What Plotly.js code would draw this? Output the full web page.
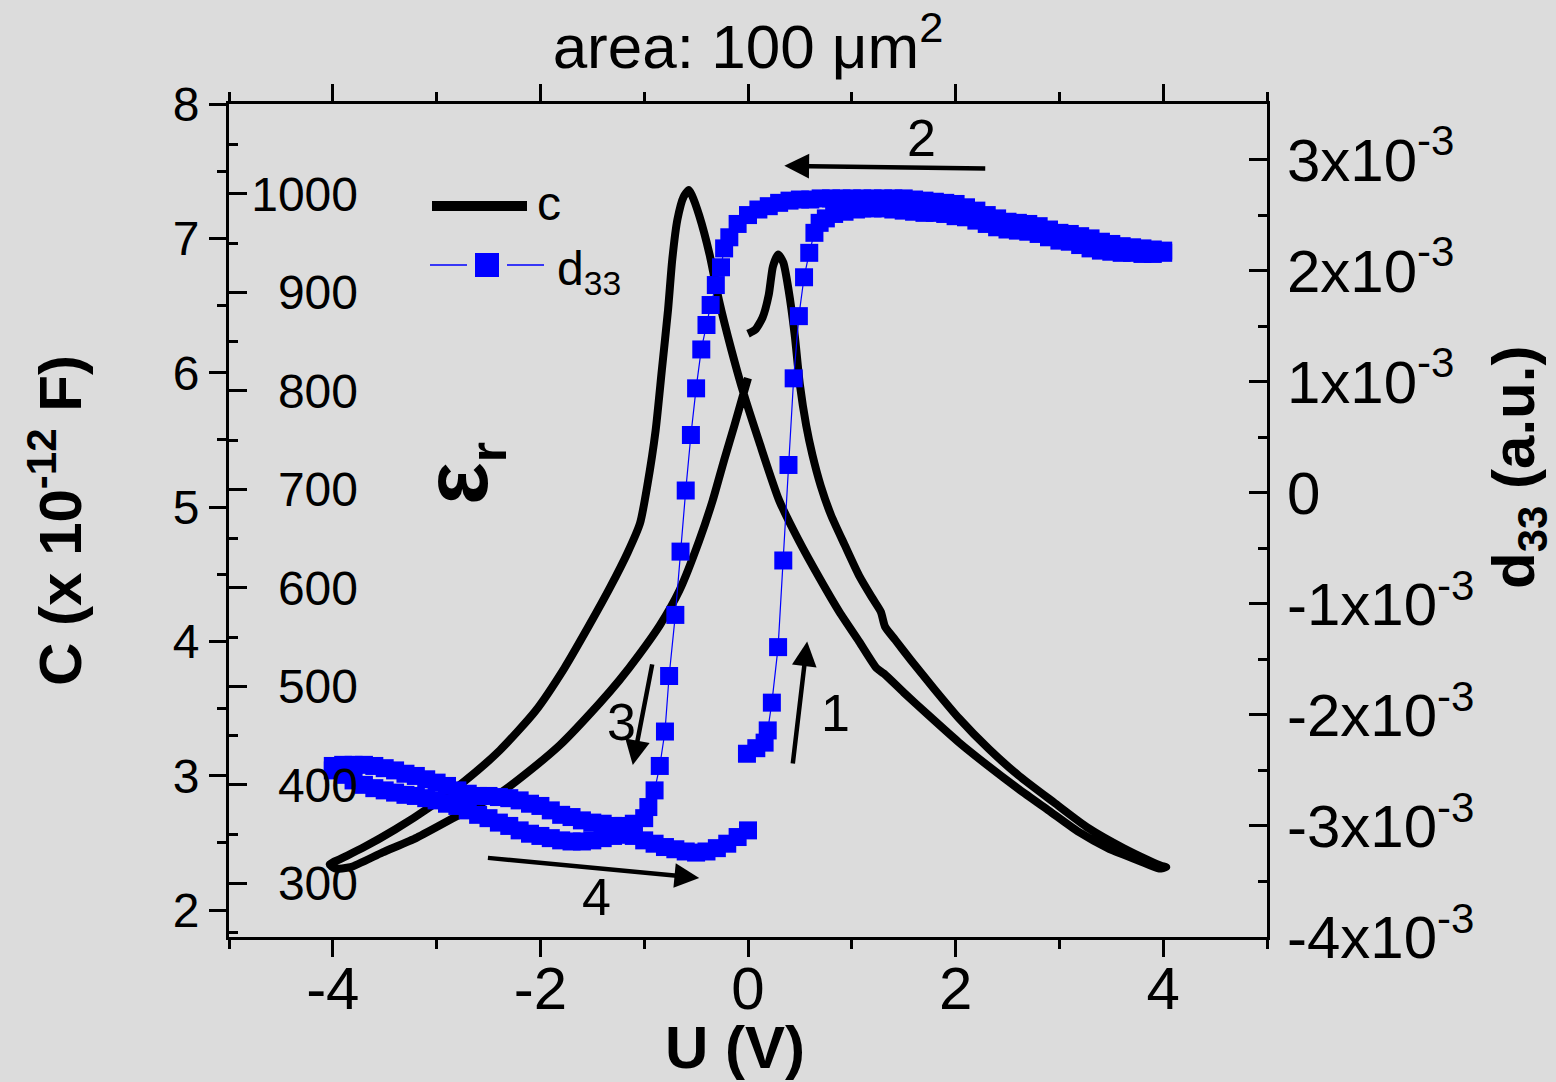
<!DOCTYPE html>
<html>
<head>
<meta charset="utf-8">
<script src="https://cdn.plot.ly/plotly-3.0.1.min.js"></script>
<style>html,body{margin:0;padding:0;background:#dcdcdc;}</style>
</head>
<body>
<div id="chart" style="width:1556px;height:1082px;"></div>
<script>
// ---------- DATA ----------
// Capacitance loop (x 10^-12 F) vs U (V): 0 -> +4 -> -4 -> 0
const C_U = [0.00,0.07,0.14,0.20,0.24,0.29,0.34,0.39,0.45,0.50,0.56,0.62,0.70,0.80,0.93,1.07,1.20,1.28,1.32,1.42,1.57,1.79,2.03,2.32,2.61,2.95,3.28,3.62,3.86,3.98,4.03,
  3.96,3.76,3.47,3.19,2.90,2.61,2.32,2.03,1.74,1.50,1.31,1.24,1.07,0.88,0.69,0.49,0.30,0.11,-0.04,-0.16,-0.28,-0.37,-0.47,-0.54,-0.57,-0.62,-0.68,-0.73,-0.77,-0.83,-0.89,-0.97,-1.04,-1.16,-1.33,-1.53,-1.77,-2.05,-2.39,-2.73,-3.06,-3.40,-3.72,-3.93,-4.03,
  -3.98,-3.83,-3.52,-3.19,-2.78,-2.39,-2.10,-1.81,-1.43,-1.24,-1.05,-0.85,-0.66,-0.47,-0.34,-0.23,-0.13,-0.06,0.00];
const C_val = [6.29,6.32,6.41,6.58,6.79,6.88,6.82,6.62,6.28,5.91,5.61,5.39,5.16,4.94,4.72,4.49,4.32,4.22,4.11,4.01,3.86,3.65,3.43,3.20,3.00,2.80,2.61,2.46,2.37,2.33,2.32,
  2.31,2.37,2.46,2.58,2.74,2.90,3.07,3.25,3.45,3.62,3.76,3.80,4.00,4.22,4.47,4.75,5.05,5.48,5.84,6.17,6.54,6.88,7.17,7.32,7.36,7.31,7.14,6.84,6.47,6.02,5.57,5.16,4.88,4.66,4.40,4.12,3.80,3.48,3.19,2.96,2.77,2.60,2.46,2.38,2.34,
  2.31,2.32,2.43,2.54,2.71,2.87,3.04,3.23,3.54,3.71,3.90,4.12,4.38,4.75,5.05,5.35,5.61,5.80,5.96];

// d33 (units of 10^-3, a.u.) vs U (V)
const D_U = [-0.01,0.08,0.16,0.19,0.23,0.29,0.34,0.39,0.44,0.49,0.54,0.59,0.64,0.69,0.75,0.83,0.93,1.04,
  1.1,1.2,1.3,1.4,1.5,1.6,1.7,1.8,1.9,2.0,2.1,2.2,2.3,2.4,2.5,2.6,2.7,2.8,2.9,3.0,3.1,3.2,3.3,3.4,3.5,3.6,3.7,3.8,3.9,4.0,
  4.0,3.9,3.8,3.7,3.6,3.5,3.4,3.3,3.2,3.1,3.0,2.9,2.8,2.7,2.6,2.5,2.4,2.3,2.2,2.1,2.0,1.9,1.8,1.7,1.6,1.5,1.4,1.3,1.2,1.1,1.0,0.9,0.8,0.7,0.6,0.5,0.4,0.3,0.2,0.1,0.0,-0.1,-0.18,-0.23,
  -0.26,-0.31,-0.36,-0.40,-0.45,-0.50,-0.55,-0.60,-0.65,-0.70,-0.76,-0.80,-0.85,-0.90,-0.96,
  -1.0,-1.1,-1.2,-1.3,-1.4,-1.5,-1.6,-1.7,-1.8,-1.9,-2.0,-2.1,-2.2,-2.3,-2.4,-2.5,-2.6,-2.7,-2.8,-2.9,-3.0,-3.1,-3.2,-3.3,-3.4,-3.5,-3.6,-3.7,-3.8,-3.9,-4.0,
  -4.0,-3.9,-3.8,-3.7,-3.6,-3.5,-3.4,-3.3,-3.2,-3.1,-3.0,-2.9,-2.8,-2.7,-2.6,-2.5,-2.4,-2.3,-2.2,-2.1,-2.0,-1.9,-1.8,-1.7,-1.6,-1.5,-1.4,-1.3,-1.2,-1.1,-1.0,-0.9,-0.8,-0.7,-0.6,-0.5,-0.4,-0.3,-0.2,-0.1,0.0];
const D_val = [-2.35,-2.30,-2.25,-2.14,-1.89,-1.39,-0.61,0.25,1.03,1.59,1.94,2.16,2.34,2.43,2.47,2.51,2.53,2.55,
  2.56,2.56,2.56,2.55,2.54,2.53,2.52,2.52,2.51,2.49,2.48,2.45,2.42,2.39,2.37,2.36,2.35,2.33,2.30,2.27,2.26,2.23,2.20,2.18,2.17,2.16,2.16,2.15,2.15,2.16,
  2.18,2.19,2.20,2.21,2.22,2.24,2.26,2.29,2.31,2.33,2.34,2.37,2.40,2.42,2.43,2.44,2.47,2.50,2.54,2.57,2.60,2.61,2.62,2.63,2.64,2.65,2.65,2.65,2.65,2.65,2.65,2.65,2.65,2.65,2.64,2.64,2.63,2.61,2.58,2.55,2.50,2.42,2.30,2.20,
  2.03,1.87,1.69,1.51,1.29,0.94,0.52,0.02,-0.53,-1.10,-1.65,-2.15,-2.46,-2.68,-2.83,
  -2.93,-2.98,-3.00,-3.00,-2.98,-2.97,-2.95,-2.92,-2.90,-2.86,-2.82,-2.80,-2.77,-2.75,-2.74,-2.73,-2.73,-2.71,-2.68,-2.64,-2.61,-2.58,-2.55,-2.53,-2.50,-2.48,-2.46,-2.45,-2.45,-2.45,-2.46,
  -2.50,-2.54,-2.59,-2.63,-2.66,-2.68,-2.70,-2.72,-2.73,-2.75,-2.77,-2.80,-2.82,-2.86,-2.90,-2.93,-2.97,-3.00,-3.04,-3.07,-3.09,-3.11,-3.13,-3.14,-3.14,-3.13,-3.11,-3.09,-3.08,-3.09,-3.13,-3.16,-3.19,-3.21,-3.23,-3.24,-3.23,-3.20,-3.16,-3.10,-3.04];

// Tick labels
const uTickVals = [-4,-2,0,2,4];
const uTickText = ['-4','-2','0','2','4'];
const d33TickVals = [-4,-3,-2,-1,0,1,2,3];
const d33TickText = ['-4x10','-3x10','-2x10','-1x10','0','1x10','2x10','3x10'];
const epsTickVals = [300,400,500,600,700,800,900,1000];
const epsPerC = 136.4; // eps_r scale factor vs C (pF)

// Sweep direction annotations
const sweepLabels = ['1','2','3','4'];

// ---------- LAYOUT HELPERS ----------
const L=229, T=104, W=1038, H=833;
const pxX = p => (p-L)/W;
const pxY = p => 1-(p-T)/H;
const FONT = 'Liberation Sans, Arial, Helvetica, sans-serif';

const supTxt = t => t==='0' ? '0' : t + '<sup>-3</sup>';

const traces = [
  {x:C_U, y:C_val, xaxis:'x', yaxis:'y', mode:'lines', name:'c',
   line:{color:'#000000', width:8, shape:'spline', smoothing:0.6}, hoverinfo:'skip'},
  {x:D_U, y:D_val, xaxis:'x', yaxis:'y2', mode:'lines+markers', name:'d33',
   line:{color:'#0000ff', width:1.2},
   marker:{symbol:'square', size:18, color:'#0000ff', line:{width:0}}, hoverinfo:'skip'},
  {x:[], y:[], xaxis:'x', yaxis:'y3', showlegend:false, hoverinfo:'skip'},
  {x:[], y:[], xaxis:'x', yaxis:'y4', showlegend:false, hoverinfo:'skip'}
];

const axCommon = {showgrid:false, zeroline:false, linecolor:'#000', linewidth:3, tickcolor:'#000', tickwidth:3};

const layout = {
  width:1556, height:1082,
  paper_bgcolor:'#dcdcdc', plot_bgcolor:'#dcdcdc',
  margin:{l:L, r:1556-L-W, t:T, b:1082-T-H, pad:0},
  showlegend:false,
  font:{family:FONT, color:'#000'},
  title:{text:'area: 100 μm<sup>2</sup>', font:{size:62, family:FONT, color:'#000'},
         x:0.5, xref:'paper', xanchor:'center', y:0.957, yref:'container', yanchor:'middle'},
  xaxis:Object.assign({}, axCommon, {
    range:[-5,5], tickvals:uTickVals, ticktext:uTickText, ticks:'outside', ticklen:17, showline:true, mirror:'ticks',
    minor:{dtick:1, ticks:'outside', ticklen:9, tickwidth:3, tickcolor:'#000', showgrid:false},
    tickfont:{size:60, family:FONT}, ticklabelstandoff:-20
  }),
  yaxis:Object.assign({}, axCommon, {
    range:[1.8,8], tick0:0, dtick:1, ticks:'outside', ticklen:17, showline:true,
    minor:{dtick:0.5, ticks:'outside', ticklen:9, tickwidth:3, tickcolor:'#000', showgrid:false},
    tickfont:{size:48, family:FONT}, ticklabelstandoff:0,
    title:{text:'<b>C (x 10<sup>-12</sup> F)</b>', font:{size:60, family:FONT}, standoff:72}
  }),
  yaxis2:Object.assign({}, axCommon, {
    overlaying:'y', side:'right', anchor:'x', range:[-4,3.5],
    tickvals:d33TickVals, ticktext:d33TickText.map(supTxt),
    ticks:'inside', ticklen:18, showline:true,
    minor:{dtick:0.5, ticks:'inside', ticklen:9, tickwidth:3, tickcolor:'#000', showgrid:false},
    tickfont:{size:60, family:FONT}, ticklabelstandoff:5
  }),
  yaxis3:Object.assign({}, axCommon, {
    overlaying:'y', side:'left', anchor:'x', range:[1.8*epsPerC, 8*epsPerC],
    tick0:0, dtick:100, ticks:'inside', ticklen:18, showline:false, showticklabels:false,
    minor:{dtick:50, ticks:'inside', ticklen:9, tickwidth:3, tickcolor:'#000', showgrid:false}
  }),
  yaxis4:Object.assign({}, axCommon, {
    overlaying:'y', side:'left', anchor:'free', position:pxX(358), range:[1.8*epsPerC, 8*epsPerC],
    tickvals:epsTickVals, ticks:'', showline:false, tickfont:{size:48, family:FONT}
  }),
  shapes:[
    // legend samples
    {type:'line', xref:'paper', yref:'paper', x0:pxX(432), x1:pxX(527), y0:pxY(206), y1:pxY(206), line:{color:'#000', width:10}},
    {type:'line', xref:'paper', yref:'paper', x0:pxX(430), x1:pxX(467), y0:pxY(265), y1:pxY(265), line:{color:'#0000ff', width:1.5}},
    {type:'line', xref:'paper', yref:'paper', x0:pxX(507), x1:pxX(544), y0:pxY(265), y1:pxY(265), line:{color:'#0000ff', width:1.5}},
    {type:'rect', xref:'paper', yref:'paper', x0:pxX(475), x1:pxX(499), y0:pxY(277), y1:pxY(253), fillcolor:'#0000ff', line:{width:0}}
  ],
  annotations:[
    // axis titles
    {xref:'paper', yref:'paper', x:pxX(735), y:pxY(1047), xanchor:'center', yanchor:'middle', showarrow:false,
     text:'<b>U (V)</b>', font:{size:60, family:FONT}},
    {xref:'paper', yref:'paper', x:pxX(1518), y:pxY(468), xanchor:'center', yanchor:'middle', showarrow:false, textangle:-90,
     text:'<b>d<sub>33</sub> (a.u.)</b>', font:{size:60, family:FONT}},
    // legend texts
    {xref:'paper', yref:'paper', x:pxX(535), y:pxY(203), xanchor:'left', yanchor:'middle', showarrow:false, text:'c', font:{size:48, family:FONT}},
    {xref:'paper', yref:'paper', x:pxX(555), y:pxY(272), xanchor:'left', yanchor:'middle', showarrow:false, text:'d<sub>33</sub>', font:{size:48, family:FONT}},
    // eps_r axis name
    {xref:'paper', yref:'paper', x:pxX(462), y:pxY(474), xanchor:'center', yanchor:'middle', showarrow:false, textangle:-90,
     text:'<b>ε<sub><span style="font-size:52px">r</span></sub></b>', font:{size:90, family:FONT}},
    // arrows
    {xref:'x', yref:'y', axref:'x', ayref:'y', x:0.35, y:7.54, ax:2.30, ay:7.52, text:'', showarrow:true, arrowhead:2, arrowsize:1.1, arrowwidth:4.5, arrowcolor:'#000'},
    {xref:'x', yref:'y', axref:'x', ayref:'y', x:0.57, y:4.00, ax:0.43, ay:3.08, text:'', showarrow:true, arrowhead:2, arrowsize:1.1, arrowwidth:4.5, arrowcolor:'#000'},
    {xref:'x', yref:'y', axref:'x', ayref:'y', x:-1.11, y:3.08, ax:-0.92, ay:3.84, text:'', showarrow:true, arrowhead:2, arrowsize:1.1, arrowwidth:4.5, arrowcolor:'#000'},
    {xref:'x', yref:'y', axref:'x', ayref:'y', x:-0.47, y:2.24, ax:-2.52, ay:2.39, text:'', showarrow:true, arrowhead:2, arrowsize:1.1, arrowwidth:4.5, arrowcolor:'#000'},
    {xref:'x', yref:'y', x:0.84, y:3.47, text:sweepLabels[0], showarrow:false, font:{size:52, family:FONT}},
    {xref:'x', yref:'y', x:1.67, y:7.75, text:sweepLabels[1], showarrow:false, font:{size:52, family:FONT}},
    {xref:'x', yref:'y', x:-1.22, y:3.40, text:sweepLabels[2], showarrow:false, font:{size:52, family:FONT}},
    {xref:'x', yref:'y', x:-1.46, y:2.10, text:sweepLabels[3], showarrow:false, font:{size:52, family:FONT}}
  ]
};

Plotly.newPlot('chart', traces, layout, {staticPlot:true, displayModeBar:false});
</script>
</body>
</html>
